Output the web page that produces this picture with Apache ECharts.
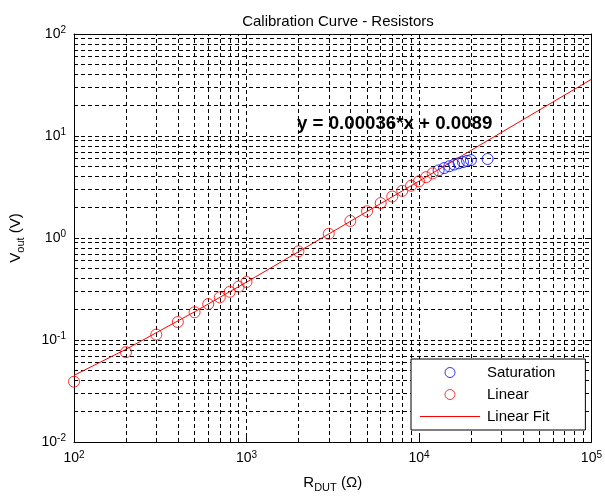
<!DOCTYPE html>
<html>
<head>
<meta charset="utf-8">
<script src="https://cdn.jsdelivr.net/npm/echarts@6/dist/echarts.min.js"></script>
<style>html,body{margin:0;padding:0;background:#fff}#c{width:605px;height:498px}</style>
</head>
<body>
<div id="c"></div>
<script>
// ---- data ----
const linearX = [100, 200, 300, 400, 500, 600, 700, 800, 900, 1000, 2000, 3000, 4000, 5000, 6000, 7000, 8000, 9000, 10000, 11000, 12000];
const linearY = [0.039, 0.076, 0.113, 0.150, 0.187, 0.225, 0.262, 0.297, 0.334, 0.37, 0.74, 1.10, 1.47, 1.83, 2.2, 2.55, 2.9, 3.25, 3.6, 3.95, 4.3];
const satX = [13000, 14000, 15000, 16000, 17000, 18000, 19000, 20000, 25000];
const satY = [4.6, 4.85, 5.05, 5.25, 5.4, 5.55, 5.7, 5.8, 5.95];
const fitX = [100, 200, 500, 1000, 10000, 100000];
const fitY = [0.045, 0.081, 0.189, 0.369, 3.61, 36.0];
const xMinorGrid = [200, 300, 400, 500, 600, 700, 800, 900, 2000, 3000, 4000, 5000, 6000, 7000, 8000, 9000, 20000, 30000, 40000, 50000, 60000, 70000, 80000, 90000];
const yMinorGrid = [0.02, 0.03, 0.04, 0.05, 0.06, 0.07, 0.08, 0.09, 0.2, 0.3, 0.4, 0.5, 0.6, 0.7, 0.8, 0.9, 2, 3, 4, 5, 6, 7, 8, 9, 20, 30, 40, 50, 60, 70, 80, 90];
const titleText = 'Calibration Curve - Resistors';
const equationText = 'y = 0.00036*x + 0.0089';
const seriesNames = ['Saturation', 'Linear', 'Linear Fit'];

const zip = (a, b) => a.map((v, i) => [v, b[i]]);
const FONT = 'Liberation Sans, Arial, sans-serif';
const dash = [4, 3];
const powLabel = v => {
  const e = Math.round(Math.log10(v));
  return '{b|10}{s|' + (e < 0 ? '-' + (-e) : e) + '}';
};
const labelRich = {
  b: { fontSize: 14, fontFamily: FONT, color: '#000' },
  s: { fontSize: 10, fontFamily: FONT, color: '#000', padding: [0, 0, 7, 0] }
};
const nameRich = {
  n: { fontSize: 15, fontFamily: FONT, color: '#000' },
  sub: { fontSize: 11, fontFamily: FONT, color: '#000', padding: [9, 0, 0, 0] }
};
const baseAxis = {
  type: 'log', logBase: 10,
  axisLine: { show: true, lineStyle: { color: '#000', width: 1 } },
  axisTick: { show: true, inside: true, length: 5, lineStyle: { color: '#000' } },
  splitLine: { show: false }
};

const chart = echarts.init(document.getElementById('c'), null, { renderer: 'canvas' });
chart.setOption({
  animation: false,
  backgroundColor: '#fff',
  title: {
    text: titleText, left: 333, top: 9, textAlign: 'center',
    textStyle: { fontSize: 15, fontWeight: 'normal', color: '#000', fontFamily: FONT }
  },
  grid: { left: 74, right: 10, top: 34, bottom: 55, containLabel: false },
  xAxis: [
    Object.assign({}, baseAxis, {
      min: 100, max: 100000, position: 'bottom',
      splitLine: { show: true, lineStyle: { color: '#000', type: dash, width: 1 } },
      axisLabel: { formatter: powLabel, rich: labelRich, margin: 8 },
      name: '{n|R}{sub|DUT}{n| (Ω)}', nameLocation: 'middle', nameGap: 31,
      nameTextStyle: { rich: nameRich }
    }),
    Object.assign({}, baseAxis, {
      min: 100, max: 100000, position: 'top', axisLabel: { show: false }
    })
  ],
  yAxis: [
    Object.assign({}, baseAxis, {
      min: 0.01, max: 100, position: 'left',
      splitLine: { show: true, lineStyle: { color: '#000', type: dash, width: 1 } },
      axisLabel: { formatter: powLabel, rich: labelRich, margin: 8 },
      name: '{n|V}{sub|out}{n| (V)}', nameLocation: 'middle', nameGap: 48,
      nameTextStyle: { rich: nameRich }
    }),
    Object.assign({}, baseAxis, {
      min: 0.01, max: 100, position: 'right', axisLabel: { show: false }
    })
  ],
  legend: {
    orient: 'vertical', left: 411, top: 359,
    data: [
      { name: seriesNames[0] },
      { name: seriesNames[1] },
      { name: seriesNames[2], icon: 'path://M0,0 L60,0 L60,1 L0,1 Z' }
    ],
    backgroundColor: '#fff', borderColor: '#000', borderWidth: 1, borderRadius: 0,
    padding: [6, 30, 6, 9],
    itemWidth: 60, itemHeight: 10, itemGap: 7,
    itemStyle: { borderWidth: 1 },
    textStyle: { fontSize: 15, fontFamily: FONT, color: '#000', padding: [0, 0, 0, 2] }
  },
  graphic: [{
    type: 'text', left: 297, top: 114, z: 100,
    style: { text: equationText, font: 'bold 18.7px ' + FONT, fill: '#000' }
  }],
  series: [
    {
      name: seriesNames[2], type: 'line', data: zip(fitX, fitY),
      showSymbol: false, symbol: 'none',
      lineStyle: { color: '#ff0000', width: 1 }, itemStyle: { color: '#ff0000' },
      z: 2,
      markLine: {
        silent: true, symbol: ['none', 'none'], z: 1,
        label: { show: false },
        lineStyle: { color: '#000', type: dash, width: 1 },
        emphasis: { disabled: true },
        data: xMinorGrid.map(v => ({ xAxis: v })).concat(yMinorGrid.map(v => ({ yAxis: v })))
      }
    },
    {
      name: seriesNames[1], type: 'scatter', data: zip(linearX, linearY),
      symbol: 'circle', symbolSize: 11, z: 3,
      itemStyle: { color: 'rgba(255,255,255,0)', borderColor: '#ff0000', borderWidth: 1 }
    },
    {
      name: seriesNames[0], type: 'scatter', data: zip(satX, satY),
      symbol: 'circle', symbolSize: 11, z: 4,
      itemStyle: { color: 'rgba(255,255,255,0)', borderColor: '#0000ff', borderWidth: 1 }
    }
  ]
});
</script>
</body>
</html>
